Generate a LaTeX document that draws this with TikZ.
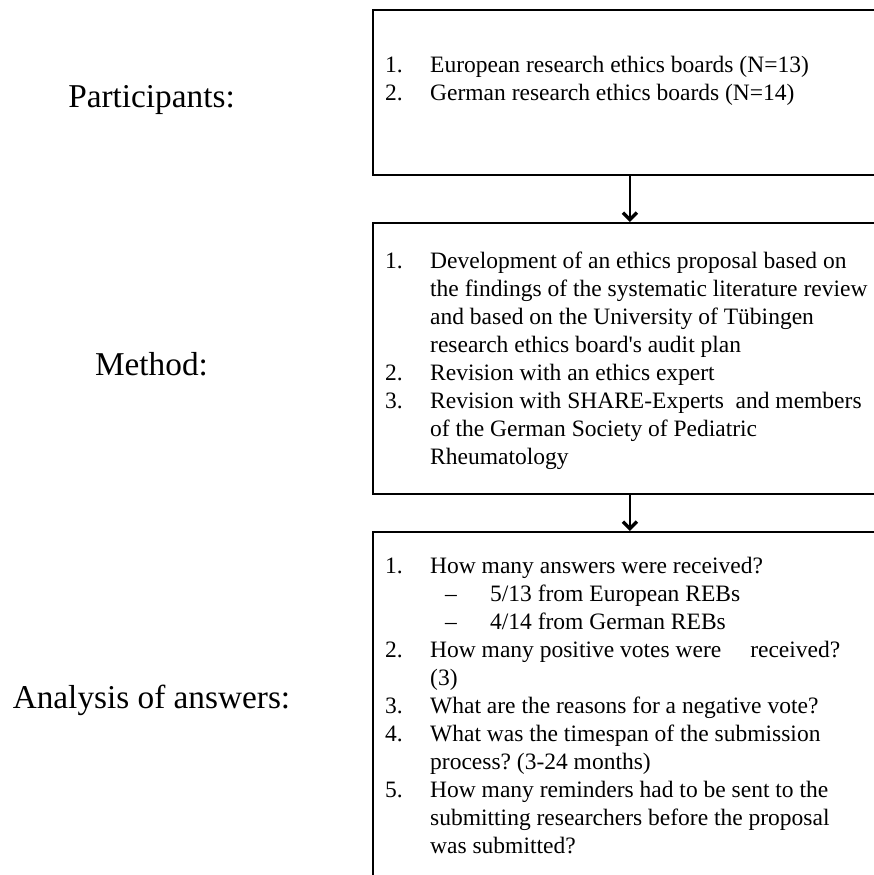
\documentclass[tikz,border=0pt]{standalone}
\usepackage{fontspec}
\setmainfont{Liberation Serif}
\usetikzlibrary{arrows.meta}
\frenchspacing
\tikzset{
  box/.style={draw=black, line width=1.8pt, rectangle, inner sep=0pt, anchor=north west},
  label/.style={anchor=base, inner sep=0pt, font=\fontsize{33.3}{40}\selectfont},
  list/.style={anchor=base west, inner sep=0pt, font=\fontsize{23.5}{28}\selectfont, align=left},
  arr/.style={line width=2.6pt, -{Straight Barb[length=7pt,width=14pt,line width=3.4pt]}}
}
\begin{document}
\begin{tikzpicture}[x=1pt,y=-1pt]
\useasboundingbox (0,0) rectangle (874,875);
\fill[white] (0,0) rectangle (874,875);
\clip (0,0) rectangle (874,875);
% boxes
\node[box, minimum width=514pt, minimum height=165pt] (b1) at (372,9) {};
\node[box, minimum width=514pt, minimum height=271pt] (b2) at (372,222) {};
\node[box, minimum width=514pt, minimum height=370pt] (b3) at (372,531) {};
% arrows
\draw[arr] (b1.south) -- (b2.north);
\draw[arr] (b2.south) -- (b3.north);
% left labels
\node[label] (lp) at (151.5,107) {Participants:};
\node[label] (lm) at (151.5,375) {Method:};
\node[label] (la) at (151.5,708) {Analysis of answers:};
% list texts
\node[list] (t1) at (385,73) {\begin{tabular}[t]{@{}p{45pt}@{}l@{}}
1. & European research ethics boards (N=13)\\
2. & German research ethics boards (N=14)
\end{tabular}};
\node[list] (t2) at (385,268) {\begin{tabular}[t]{@{}p{45pt}@{}l@{}}
1. & Development of an ethics proposal based on\\
   & the findings of the systematic literature review\\
   & and based on the University of Tübingen\\
   & research ethics board\textquotesingle s audit plan\\
2. & Revision with an ethics expert\\
3. & Revision with SHARE-Experts\ \ and members\\
   & of the German Society of Pediatric\\
   & Rheumatology
\end{tabular}};
\node[list] (t3) at (385,573) {\begin{tabular}[t]{@{}p{45pt}@{}l@{}}
1. & How many answers were received?\\
   & \hspace{15pt}\makebox[45pt][l]{–}5/13 from European REBs\\
   & \hspace{15pt}\makebox[45pt][l]{–}4/14 from German REBs\\
2. & How many positive votes were\hspace{29pt}received?\\
   & (3)\\
3. & What are the reasons for a negative vote?\\
4. & What was the timespan of the submission\\
   & process? (3-24 months)\\
5. & How many reminders had to be sent to the\\
   & submitting researchers before the proposal\\
   & was submitted?
\end{tabular}};
\end{tikzpicture}
\end{document}
